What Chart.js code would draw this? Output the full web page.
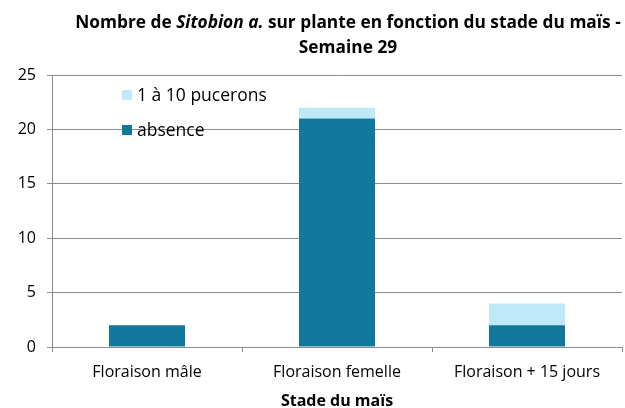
<!DOCTYPE html>
<html>
<head>
<meta charset="utf-8">
<script src="https://cdn.jsdelivr.net/npm/chart.js@4/dist/chart.umd.min.js"></script>
<style>
html,body{margin:0;padding:0;background:#fff;}
#wrap{width:625px;height:408px;position:relative;}
</style>
</head>
<body>
<div id="wrap"><canvas id="c" width="625" height="408"></canvas></div>
<script>
const categories = ["Floraison mâle", "Floraison femelle", "Floraison + 15 jours"];
const absence = [2, 21, 2];
const pucerons = [0, 1, 2];
const seriesNames = ["absence", "1 à 10 pucerons"];
const yTicks = [0, 5, 10, 15, 20, 25];
const titleParts1 = [["Nombre de ", false], ["Sitobion a.", true], [" sur plante en fonction du stade du maïs -", false]];
const titleLine2 = "Semaine 29";
const xTitle = "Stade du maïs";

const FONT = "'Open Sans', 'Liberation Sans', Arial, sans-serif";
const DARK = "#0F789B";
const LIGHT = "#BFE9F9";
const GRID = "#8C8C8C";

const overlay = {
  id: 'overlay',
  afterDraw(chart) {
    const ctx = chart.ctx;
    ctx.save();
    ctx.fillStyle = "#000";
    ctx.textBaseline = "middle";
    const cx = 348;
    const measure = (sz) => {
      let t = 0;
      titleParts1.forEach(p => { ctx.font = (p[1] ? "italic " : "") + "bold " + sz + "px " + FONT; t += ctx.measureText(p[0]).width; });
      return t;
    };
    const sz = 16 * 546 / measure(16);
    const total = measure(sz);
    let x = cx - total / 2;
    ctx.textAlign = "left";
    titleParts1.forEach(p => { ctx.font = (p[1] ? "italic " : "") + "bold " + sz + "px " + FONT; ctx.fillText(p[0], x, 23); x += ctx.measureText(p[0]).width; });
    ctx.font = "bold " + sz + "px " + FONT;
    ctx.textAlign = "center";
    ctx.fillText(titleLine2, cx, 48);
    // legend (reversed order, inside plot)
    const ds = chart.data.datasets;
    const items = [ds[1], ds[0]];
    ctx.textAlign = "left";
    ctx.font = "17.5px " + FONT;
    items.forEach((d, i) => {
      const yc = 95 + i * 35;
      ctx.fillStyle = d.backgroundColor;
      ctx.fillRect(122, yc - 5, 10, 10);
      ctx.fillStyle = "#000";
      ctx.fillText(d.label, 137, yc + 1);
    });
    ctx.restore();
  }
};

new Chart(document.getElementById('c'), {
  type: 'bar',
  data: {
    labels: categories,
    datasets: [
      { label: seriesNames[0], data: absence, backgroundColor: DARK, barPercentage: 0.4, categoryPercentage: 1 },
      { label: seriesNames[1], data: pucerons, backgroundColor: LIGHT, barPercentage: 0.4, categoryPercentage: 1 }
    ]
  },
  options: {
    responsive: false,
    animation: false,
    layout: { padding: { top: 75, right: 3, left: 0, bottom: 0 } },
    plugins: { legend: { display: false }, title: { display: false }, tooltip: { enabled: false } },
    scales: {
      x: {
        stacked: true,
        grid: { display: true, drawOnChartArea: false, drawTicks: true, tickLength: 5, color: GRID, offset: true },
        border: { display: true, color: GRID },
        ticks: { color: "#000", font: { family: FONT, size: 16 }, padding: 11, maxRotation: 0 },
        title: { display: true, text: xTitle, color: "#000", font: { family: FONT, size: 16, weight: 'bold' }, padding: { top: 3, bottom: -3 } },
        afterFit(s) { s.height = 61; }
      },
      y: {
        stacked: true,
        min: 0, max: 25,
        afterBuildTicks(s) { s.ticks = yTicks.map(v => ({ value: v })); },
        grid: { color: GRID, tickLength: 5 },
        border: { display: true, color: GRID },
        ticks: { color: "#000", font: { family: FONT, size: 16 }, padding: 11 },
        afterFit(s) { s.width = 52; }
      }
    }
  },
  plugins: [overlay]
});
</script>
</body>
</html>
